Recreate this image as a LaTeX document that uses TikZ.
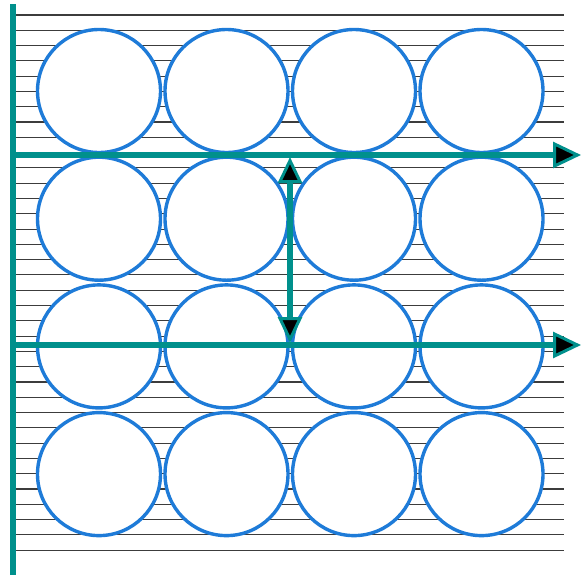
\documentclass[tikz,border=0pt]{standalone}
\usetikzlibrary{arrows.meta}
\definecolor{rodTeal}{HTML}{00908C}
\definecolor{discBlue}{HTML}{1E7BD8}
\definecolor{hatchGray}{HTML}{3C3C3C}

\begin{document}
\begin{tikzpicture}[x=1pt, y=-1pt,
      disc/.style={circle, draw=discBlue, line width=3.4pt, fill=white,
                   minimum size=123pt, inner sep=0pt},
      hatch/.style={hatchGray, line width=1.1pt},
      rod/.style={rodTeal, line width=6pt},
      arr/.style={rod, -{Triangle[length=28pt, width=26pt, fill=black, line width=3pt]}},
      darr/.style={rod, {Triangle[length=26pt, width=24pt, fill=black, line width=3pt]}-{Triangle[length=26pt, width=24pt, fill=black, line width=3pt]}}]
    \useasboundingbox (0,0) rectangle (585,576);
    % hatching
    \foreach \k in {0,...,35}
      \draw[hatch] (13,{15+15.29*\k}) -- (564,{15+15.29*\k});
    % discs
    \foreach \i in {0,...,3}
      \foreach \j in {0,...,3}
        \node[disc] (d\i\j) at ({99+127.5*\i},{91+127.7*\j}) {};
    % axes
    \coordinate (top) at (13,4);
    \coordinate (bot) at (13,575);
    \draw[rod] (top) -- (bot);
    \coordinate (upS) at (13,155);
    \coordinate (upE) at (581,155);
    \coordinate (loS) at (13,345);
    \coordinate (loE) at (581,345);
    \coordinate (midU) at (290,157);
    \coordinate (midL) at (290,343);
    \draw[arr] (upS) -- (upE);
    \draw[arr] (loS) -- (loE);
    \draw[darr] (midU) -- (midL);
  \end{tikzpicture}
\end{document}
